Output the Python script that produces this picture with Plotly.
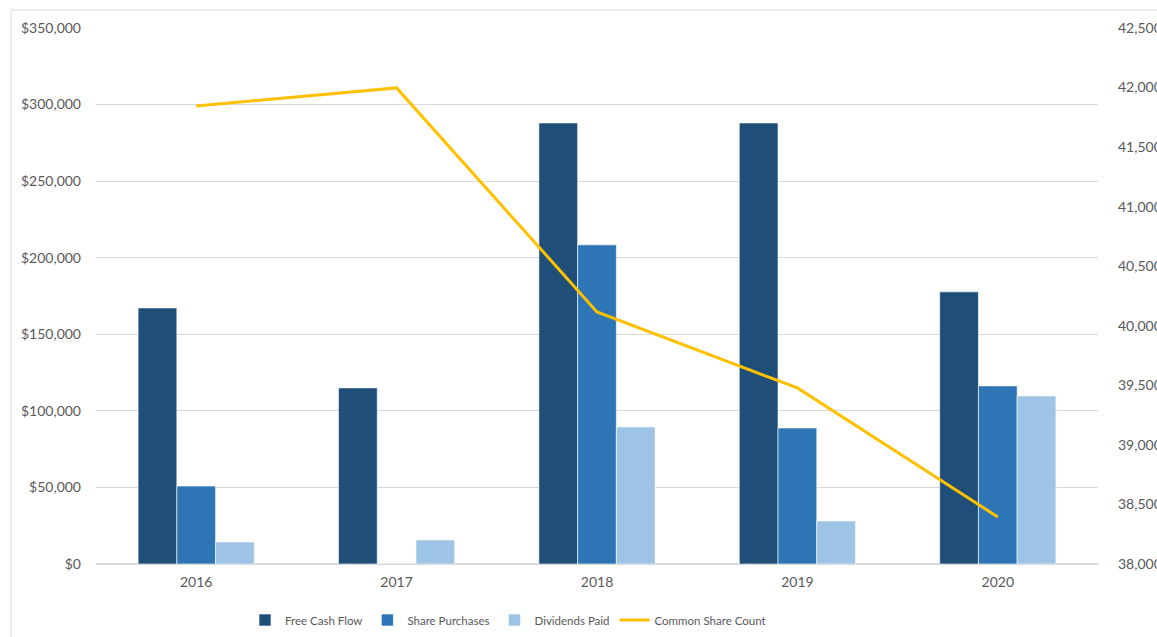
import plotly.graph_objects as go

years = ["2016", "2017", "2018", "2019", "2020"]
free_cash_flow = [167200, 115000, 288000, 288000, 177700]
share_purchases = [50900, 0, 208400, 88800, 116300]
dividends_paid = [14400, 15700, 89500, 28100, 109700]
common_share_count = [41845, 41997, 40116, 39478, 38395]

left_ticks = [0, 50000, 100000, 150000, 200000, 250000, 300000, 350000]
left_labels = ["$" + f"{v:,}" for v in left_ticks]
right_ticks = [38000, 38500, 39000, 39500, 40000, 40500, 41000, 41500, 42000, 42500]
right_labels = [f"{v:,}" for v in right_ticks]

font_fam = "Lato, Carlito, 'Liberation Sans', sans-serif"
txt = "#595959"

fig = go.Figure()
bar_line = dict(color="rgba(255,255,255,0.6)", width=1)
fig.add_trace(go.Bar(x=years, y=free_cash_flow, name="Free Cash Flow",
                     marker=dict(color="#1f4e79", line=bar_line)))
fig.add_trace(go.Bar(x=years, y=share_purchases, name="Share Purchases",
                     marker=dict(color="#2e75b6", line=bar_line)))
fig.add_trace(go.Bar(x=years, y=dividends_paid, name="Dividends Paid",
                     marker=dict(color="#9dc3e6", line=bar_line)))
fig.add_trace(go.Scatter(x=years, y=common_share_count, name="Common Share Count",
                         mode="lines", yaxis="y2",
                         line=dict(color="#ffc000", width=3)))

fig.update_layout(
    width=1157, height=637,
    margin=dict(l=96, r=59, t=28, b=73, autoexpand=False),
    paper_bgcolor="white", plot_bgcolor="white",
    font=dict(family=font_fam, size=14, color=txt),
    barmode="group", bargap=0.42, bargroupgap=0,
    showlegend=True,
    legend=dict(orientation="h", xref="paper", x=(508 - 96) / 1002, xanchor="center",
                yref="container", y=1 - 620 / 637, yanchor="middle",
                font=dict(size=11.5, color=txt), traceorder="normal",
                itemwidth=30),
    xaxis=dict(showgrid=False, showline=False, ticks="", tickfont=dict(size=14, color=txt),
               ticklabelstandoff=8, automargin=False),
    yaxis=dict(range=[0, 350000], tickvals=left_ticks, ticktext=left_labels,
               showgrid=True, gridcolor="#d9d9d9", gridwidth=1, zeroline=True,
               zerolinecolor="#d9d9d9", zerolinewidth=1.5, showline=False, ticks="",
               ticklabelstandoff=14, tickfont=dict(size=14, color=txt), automargin=False),
    yaxis2=dict(range=[38000, 42500], tickvals=right_ticks, ticktext=right_labels,
                overlaying="y", side="right", showgrid=False, zeroline=False,
                showline=False, ticks="", ticklabelstandoff=19,
                tickfont=dict(size=14, color=txt), automargin=False),
    shapes=[dict(type="rect", xref="paper", yref="paper",
                 x0=(11 - 96) / 1002, x1=1.2, y0=-0.3, y1=1 + (28 - 10) / 536,
                 line=dict(color="#d9d9d9", width=1), layer="below")],
)

fig.write_html("out.html")
